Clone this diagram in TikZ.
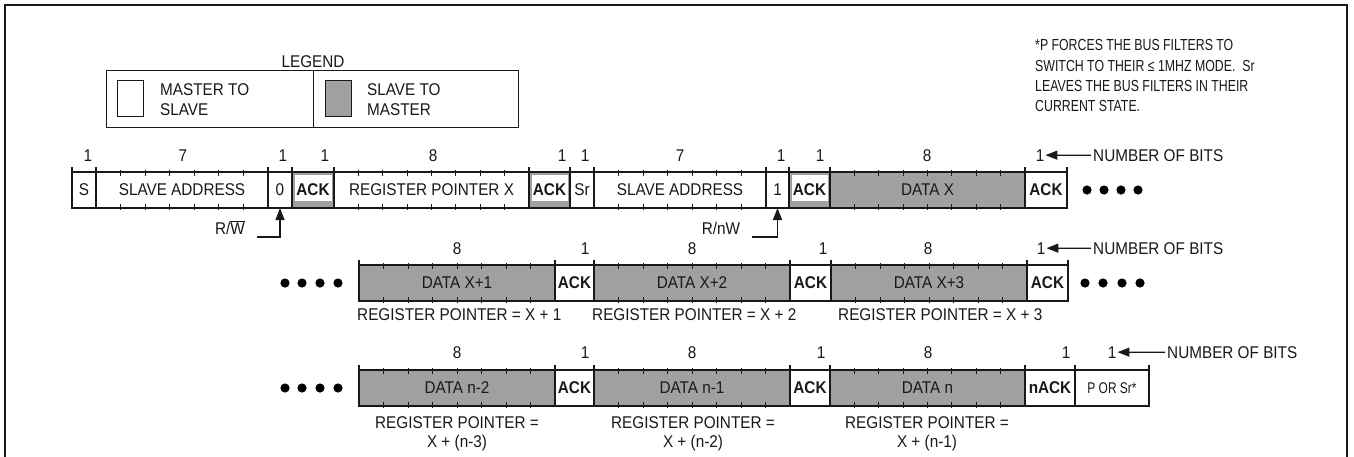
\documentclass[tikz,border=0pt]{standalone}
\usepackage{fontspec}
\setmainfont[FakeStretch=0.9]{Liberation Sans}
\newfontfamily\notefnt[FakeStretch=0.77]{Liberation Sans}
\usetikzlibrary{calc,arrows.meta}
\definecolor{ink}{RGB}{25,25,25}
\definecolor{shade}{RGB}{160,160,160}
\newcommand\lbl{\fontsize{17}{20}\selectfont}
\newcommand\lblb{\fontsize{17}{20}\selectfont\bfseries}
\newcommand\notesz{\notefnt\fontsize{16}{19}\selectfont}
\newcommand\bitticks[2]{%
  \pgfmathtruncatemacro\nticks{#2-1}%
  \foreach \i in {1,...,\nticks}{%
    \draw[tick] ($(#1.north west)!\i/#2!(#1.north east)$) ++(0,-2) -- ++(0,6);
    \draw[tick] ($(#1.south west)!\i/#2!(#1.south east)$) ++(0,2) -- ++(0,-6);
  }}
\tikzset{
  fld/.style={draw=ink, line width=1.3pt, minimum height=36pt, inner sep=0pt, outer sep=0pt,
    anchor=north west, font=\lbl, text=ink},
  gfld/.style={fld, fill=shade},
  sack/.style={fld, fill=shade, font=\lblb,
    path picture={\fill[white] ([xshift=2.5pt,yshift=-3pt]path picture bounding box.north west)
      rectangle ([xshift=-2.5pt,yshift=7pt]path picture bounding box.south east);}},
  mack/.style={fld, fill=white, font=\lblb},
  bitn/.style={anchor=base, font=\lbl, text=ink, inner sep=1pt},
  txt/.style={anchor=base west, font=\lbl, text=ink, inner sep=0pt},
  ctxt/.style={anchor=base, font=\lbl, text=ink, inner sep=0pt},
  notetxt/.style={anchor=base west, font=\notesz, text=ink, inner sep=0pt},
  tick/.style={draw=ink, line width=0.9pt},
  edge/.style={draw=ink, line width=1.3pt},
  arr/.style={draw=ink, line width=1.3pt, -{Triangle[length=12pt,width=9pt]}},
  dot/.style={fill=black},
}
\begin{document}
\begin{tikzpicture}[x=1pt,y=-1pt]
\useasboundingbox (0,0) rectangle (1354,456);
\fill[white] (0,0) rectangle (1354,456);
% frame
\draw[line width=2pt, ink] (5,462) -- (5,5) -- (1347,5) -- (1347,462);

% legend
\node[ctxt] (leg) at (313,67) {LEGEND};
\node[draw=ink, line width=1.3pt, anchor=north west, minimum width=207pt, minimum height=57pt, inner sep=0pt] (legl) at (106,70) {};
\node[draw=ink, line width=1.3pt, anchor=north west, minimum width=205pt, minimum height=57pt, inner sep=0pt] (legr) at (313,70) {};
\node[draw=ink, line width=1.3pt, fill=white, anchor=north west, minimum width=26pt, minimum height=36pt, inner sep=0pt] (sqw) at (117,80) {};
\node[draw=ink, line width=1.3pt, fill=shade, anchor=north west, minimum width=26pt, minimum height=36pt, inner sep=0pt] (sqg) at (325,80) {};
\node[txt] (lm1) at (160,95) {MASTER TO};
\node[txt] (lm2) at (160,115) {SLAVE};
\node[txt] (ls1) at (367,95) {SLAVE TO};
\node[txt] (ls2) at (367,115) {MASTER};

% note
\node[notetxt] (n1) at (1035,50.7) {*P FORCES THE BUS FILTERS TO};
\node[notetxt] (n2) at (1035,71.3) {SWITCH TO THEIR ≤ 1MHZ MODE.\ \ Sr};
\node[notetxt] (n3) at (1035,91.6) {LEAVES THE BUS FILTERS IN THEIR};
\node[notetxt] (n4) at (1035,111.9) {CURRENT STATE.};

% ---------- row 1 ----------
\node[fld, minimum width=24pt] (s) at (72,172) {S};
\node[fld, minimum width=172pt] (sa1) at (96,172) {SLAVE ADDRESS};
\node[fld, minimum width=24pt] (b0) at (268,172) {0};
\node[sack, minimum width=42pt] (a1) at (292,172) {ACK};
\node[fld, minimum width=195pt] (rp) at (334,172) {REGISTER POINTER X};
\node[sack, minimum width=41pt] (a2) at (529,172) {ACK};
\node[fld, minimum width=24pt] (sr) at (570,172) {Sr};
\node[fld, minimum width=172pt] (sa2) at (594,172) {SLAVE ADDRESS};
\node[fld, minimum width=23pt] (b1) at (766,172) {1};
\node[sack, minimum width=41pt] (a3) at (789,172) {ACK};
\node[gfld, minimum width=195pt] (dx) at (830,172) {DATA X};
\node[mack, minimum width=42pt] (a4) at (1025,172) {ACK};
\bitticks{sa1}{7}
\bitticks{rp}{8}
\bitticks{sa2}{7}
\bitticks{dx}{8}

\node[bitn] (r1n1) at (88,161) {1};
\node[bitn] (r1n2) at (183,161) {7};
\node[bitn] (r1n3) at (283,161) {1};
\node[bitn] (r1n4) at (325,161) {1};
\node[bitn] (r1n5) at (433,161) {8};
\node[bitn] (r1n6) at (562,161) {1};
\node[bitn] (r1n7) at (585,161) {1};
\node[bitn] (r1n8) at (680,161) {7};
\node[bitn] (r1n9) at (781,161) {1};
\node[bitn] (r1n10) at (820,161) {1};
\node[bitn] (r1n11) at (927,161) {8};
\node[bitn] (r1n12) at (1040,161) {1};
\node[txt, inner sep=2pt] (nob1) at (1091,161) {NUMBER OF BITS};
\draw[arr] (nob1.west) -- (r1n12.east);

\node[ctxt] (rwl) at (230,234) {R/$\overline{\hbox{W}}$};
\coordinate (rwa) at (257,237);
\draw[arr] (rwa) -| (b0.south);
\node[ctxt] (rnwl) at (721,234) {R/nW};
\coordinate (rwb) at (752,237);
\draw[arr] (rwb) -| (b1.south);

\foreach \x in {1087,1104,1121,1138} \fill[dot] (\x,190) circle (4.6pt);

% ---------- row 2 ----------
\node[gfld, minimum width=196pt] (d1) at (359,265) {DATA X+1};
\node[mack, minimum width=39pt] (a5) at (555,265) {ACK};
\node[gfld, minimum width=196pt] (d2) at (594,265) {DATA X+2};
\node[mack, minimum width=41pt] (a6) at (790,265) {ACK};
\node[gfld, minimum width=196pt] (d3) at (831,265) {DATA X+3};
\node[mack, minimum width=41pt] (a7) at (1027,265) {ACK};
\bitticks{d1}{8}
\bitticks{d2}{8}
\bitticks{d3}{8}

\node[bitn] (r2n1) at (457,254) {8};
\node[bitn] (r2n2) at (585,254) {1};
\node[bitn] (r2n3) at (692,254) {8};
\node[bitn] (r2n4) at (823,254) {1};
\node[bitn] (r2n5) at (928,254) {8};
\node[bitn] (r2n6) at (1041,254) {1};
\node[txt, inner sep=2pt] (nob2) at (1091,254) {NUMBER OF BITS};
\draw[arr] (nob2.west) -- (r2n6.east);

\node[txt] (rp1) at (357,320) {REGISTER POINTER = X + 1};
\node[txt] (rp2) at (592,320) {REGISTER POINTER = X + 2};
\node[txt] (rp3) at (838,320) {REGISTER POINTER = X + 3};

\foreach \x in {285,302,320,338} \fill[dot] (\x,283) circle (4.6pt);
\foreach \x in {1085,1103,1122,1140} \fill[dot] (\x,283) circle (4.6pt);

% ---------- row 3 ----------
\node[gfld, minimum width=196pt] (e1) at (359,370) {DATA n-2};
\node[mack, minimum width=39pt] (a8) at (555,370) {ACK};
\node[gfld, minimum width=196pt] (e2) at (594,370) {DATA n-1};
\node[mack, minimum width=40pt] (a9) at (790,370) {ACK};
\node[gfld, minimum width=195pt] (e3) at (830,370) {DATA n};
\node[mack, minimum width=50pt] (na) at (1025,370) {nACK};
\node[fld, minimum width=74pt, font=\notefnt\fontsize{15.5}{18}\selectfont] (por) at (1075,370) {P OR Sr*};
\bitticks{e1}{8}
\bitticks{e2}{8}
\bitticks{e3}{8}

\node[bitn] (r3n1) at (457,358) {8};
\node[bitn] (r3n2) at (585,358) {1};
\node[bitn] (r3n3) at (692,358) {8};
\node[bitn] (r3n4) at (821,358) {1};
\node[bitn] (r3n5) at (928,358) {8};
\node[bitn] (r3n6) at (1066,358) {1};
\node[bitn] (r3n7) at (1112,358) {1};
\node[txt, inner sep=2pt] (nob3) at (1165,358) {NUMBER OF BITS};
\draw[arr] (nob3.west) -- (r3n7.east);

\node[ctxt] (q1a) at (457,428) {REGISTER POINTER =};
\node[ctxt] (q1b) at (457,447) {X + (n-3)};
\node[ctxt] (q2a) at (693,428) {REGISTER POINTER =};
\node[ctxt] (q2b) at (693,447) {X + (n-2)};
\node[ctxt] (q3a) at (927,428) {REGISTER POINTER =};
\node[ctxt] (q3b) at (927,447) {X + (n-1)};

\foreach \x in {285,302,320,338} \fill[dot] (\x,388) circle (4.6pt);

% field boundary marks above the bars
\foreach \n in {s,sa1,b0,a1,rp,a2,sr,sa2,b1,a3,dx,a4,d1,a5,d2,a6,d3,a7,e1,a8,e2,a9,e3,na,por}
  \draw[edge] (\n.north west) -- ++(0,-5);
\foreach \n in {a4,a7,por}
  \draw[edge] (\n.north east) -- ++(0,-5);
\end{tikzpicture}
\end{document}
